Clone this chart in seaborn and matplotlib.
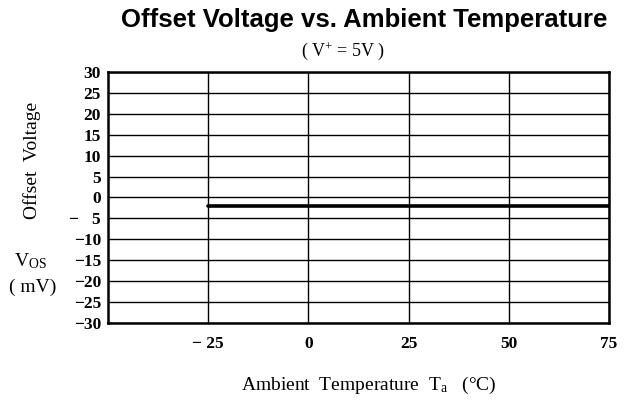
import matplotlib
matplotlib.use("Agg")
import matplotlib.pyplot as plt
import seaborn as sns
import pandas as pd

temps = [-25, 0, 25, 50, 75]
offset_mv = [-2.0, -2.0, -2.0, -2.0, -2.0]
x_ticks = [-25, 0, 25, 50, 75]
x_labels = ["\u2212 25", "0", "25", "50", "75"]
y_ticks = [30, 25, 20, 15, 10, 5, 0, -5, -10, -15, -20, -25, -30]
y_labels = ["30", "25", "20", "15", "10", "5", "0", "\u2212   5", "\u221210", "\u221215",
            "\u221220", "\u221225", "\u221230"]

df = pd.DataFrame({"Ta": temps, "Vos": offset_mv})

sns.set_style("white")
plt.rcParams["font.family"] = ["Liberation Serif", "DejaVu Serif"]
plt.rcParams["text.color"] = "black"
plt.rcParams["xtick.color"] = "black"
plt.rcParams["ytick.color"] = "black"
plt.rcParams["mathtext.fontset"] = "custom"
plt.rcParams["mathtext.rm"] = "Liberation Serif"
plt.rcParams["mathtext.it"] = "Liberation Serif:italic"
plt.rcParams["mathtext.bf"] = "Liberation Serif:bold"

fig = plt.figure(figsize=(6.29, 4.05), dpi=100)
ax = fig.add_axes([108 / 629, 1 - 323 / 405, (609 - 108) / 629, (323 - 72) / 405])

sns.lineplot(data=df, x="Ta", y="Vos", ax=ax, color="black", linewidth=2.6)

ax.set_xlim(-50, 75)
ax.set_ylim(-30, 30)
ax.set_xticks(x_ticks)
ax.set_xticklabels(x_labels, fontsize=12.5, fontweight="bold", color="black")
ax.set_yticks(y_ticks)
ax.set_yticklabels(y_labels, fontsize=12.5, fontweight="bold", color="black")
ax.tick_params(length=0, pad=5)
ax.tick_params(axis="x", pad=9)
ax.grid(True, color="black", linewidth=1.0)
for s in ax.spines.values():
    s.set_color("black")
    s.set_linewidth(1.8)
ax.set_xlabel("")
ax.set_ylabel("")

fig.text(364 / 629, 1 - 20 / 405, "Offset Voltage vs. Ambient Temperature",
         family="Liberation Sans", fontsize=18.5, fontweight="bold",
         color="black", ha="center", va="center")
fig.text(343 / 629, 1 - 51 / 405, "( V$^{+}$ = 5V )", fontsize=13,
         ha="center", va="center")
fig.text(32 / 629, 1 - 160 / 405, "Offset  Voltage", fontsize=14,
         rotation=90, ha="center", va="center")
fig.text(30 / 629, 1 - 261 / 405, "V$_{\\rm OS}$", fontsize=14,
         ha="center", va="center")
fig.text(33 / 629, 1 - 287 / 405, "( mV)", fontsize=14,
         ha="center", va="center")
fig.text(369 / 629, 1 - 385 / 405, "Ambient  Temperature  T$_{\\rm a}$   (\u00b0C)",
         fontsize=14, ha="center", va="center")

fig.savefig("out.png", dpi=100, facecolor="white")
